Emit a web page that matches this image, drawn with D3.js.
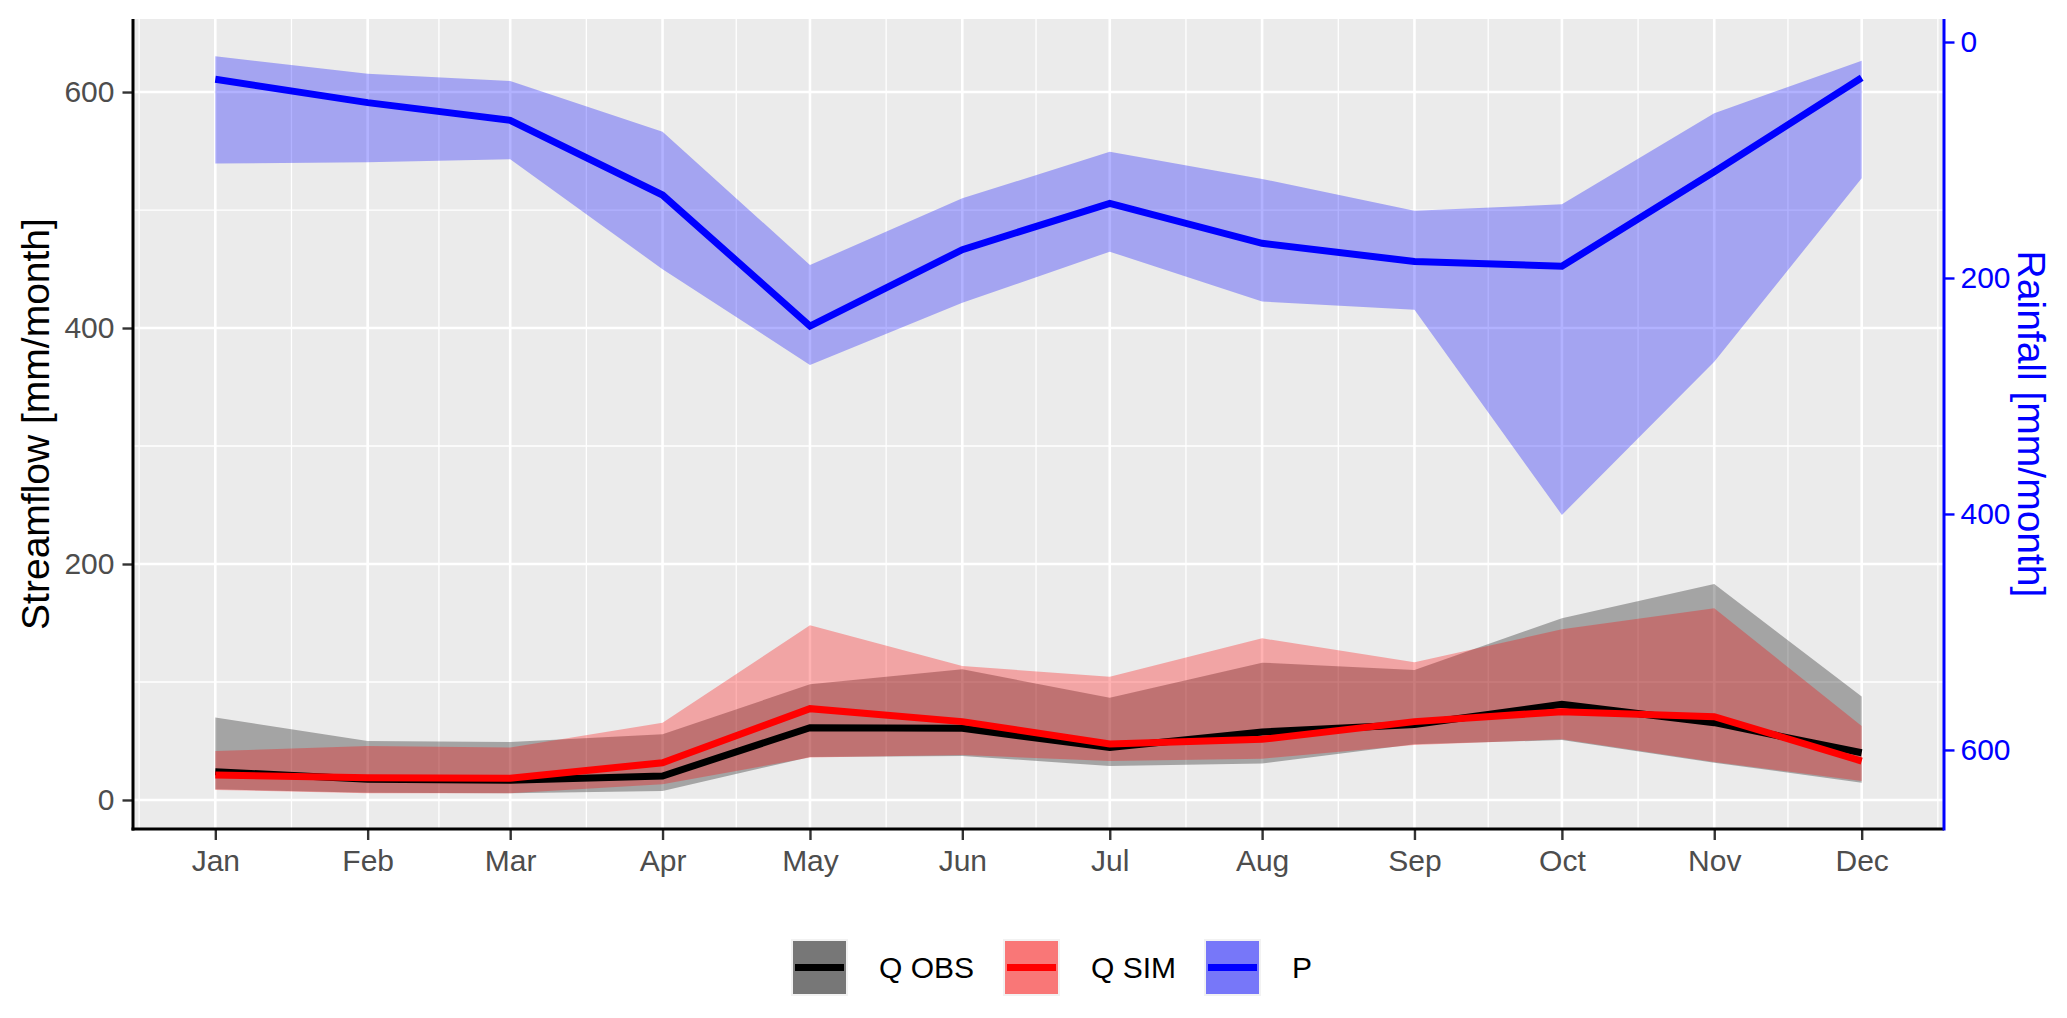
<!DOCTYPE html>
<html><head><meta charset="utf-8">
<script src="https://cdn.jsdelivr.net/npm/d3@7"></script>
<style>body{margin:0;background:#fff}svg{display:block}text{font-family:"Liberation Sans",Arial,sans-serif}</style>
</head><body><svg id="c" width="2067" height="1018"></svg>
<script>
const months = ["Jan","Feb","Mar","Apr","May","Jun","Jul","Aug","Sep","Oct","Nov","Dec"];
const qObsMean = [24, 17.5, 16.7, 20.3, 61.3, 60.7, 44.4, 57.6, 64, 81, 65.5, 40];
const qObsMin  = [9, 6.2, 5.6, 7.6, 36.4, 37.3, 28.8, 31, 47.2, 50.8, 31.6, 14.7];
const qObsMax  = [69.8, 50, 49.2, 55.6, 98, 110.7, 86.7, 116.4, 110.2, 154, 183, 87.6];
const qSimMean = [21.2, 18.9, 18.4, 31.6, 77.4, 66.4, 47.5, 51.4, 66.4, 74.8, 70.6, 33];
const qSimMin  = [8.5, 5.6, 5.6, 13.3, 35.9, 38.1, 33, 35, 46.6, 51.4, 32.2, 16];
const qSimMax  = [41.5, 45.8, 44.4, 65.5, 148, 113.5, 104.5, 137, 116.7, 144.6, 162.4, 62.7];
const pMean = [31.6, 51.4, 66.4, 129.7, 240.7, 176, 136.7, 170.6, 186, 190, 110, 30.3];
const pMin  = [12, 27, 33, 76, 189, 132.5, 93, 116, 143, 137.6, 60.4, 15.8];
const pMax  = [103, 102, 99.4, 192.6, 273.7, 221, 177.7, 220, 227, 400.8, 271, 115.5];
const leftTicks = [0, 200, 400, 600];
const rightTicks = [0, 200, 400, 600];
const legendLabels = ["Q OBS", "Q SIM", "P"];

const svg = d3.select("#c");
const L = 133, R = 1944, T = 19, B = 829;
const dates = months.map((m, i) => new Date(Date.UTC(2000, i, 1)));
const pad = (dates[11] - dates[0]) * 0.05;
const x = d3.scaleUtc().domain([new Date(+dates[0] - pad), new Date(+dates[11] + pad)]).range([L, R]);
const y = d3.scaleLinear().domain([-24.6, 661.9]).range([B, T]);
const yR = d3.scaleLinear().domain([-19.5, 667]).range([T, B]);

svg.append("rect").attr("x", L).attr("y", T).attr("width", R - L).attr("height", B - T).attr("fill", "#ebebeb");
svg.append("clipPath").attr("id", "clip").append("rect").attr("x", L).attr("y", T).attr("width", R - L).attr("height", B - T);

// grid
const g = svg.append("g").attr("clip-path", "url(#clip)");
const minorY = [100, 300, 500];
g.selectAll(".hmin").data(minorY).join("line").attr("x1", L).attr("x2", R)
  .attr("y1", d => y(d)).attr("y2", d => y(d)).attr("stroke", "#fff").attr("stroke-width", 1.3);
const ext = [new Date(Date.UTC(1999, 11, 1)), ...dates, new Date(Date.UTC(2001, 0, 1))];
const minorX = d3.pairs(ext).map(([a, b]) => new Date((+a + +b) / 2));
g.selectAll(".vmin").data(minorX).join("line").attr("y1", T).attr("y2", B)
  .attr("x1", d => x(d)).attr("x2", d => x(d)).attr("stroke", "#fff").attr("stroke-width", 1.3);
g.selectAll(".hmaj").data(leftTicks).join("line").attr("x1", L).attr("x2", R)
  .attr("y1", d => y(d)).attr("y2", d => y(d)).attr("stroke", "#fff").attr("stroke-width", 2.6);
g.selectAll(".vmaj").data(dates).join("line").attr("y1", T).attr("y2", B)
  .attr("x1", d => x(d)).attr("x2", d => x(d)).attr("stroke", "#fff").attr("stroke-width", 2.6);

// ribbons
const idx = d3.range(12);
const areaQ = (lo, hi) => d3.area().x(i => x(dates[i])).y0(i => y(lo[i])).y1(i => y(hi[i]))(idx);
const areaP = d3.area().x(i => x(dates[i])).y0(i => yR(pMax[i])).y1(i => yR(pMin[i]))(idx);
g.append("path").attr("d", areaQ(qObsMin, qObsMax)).attr("fill", "#000").attr("fill-opacity", 0.3);
g.append("path").attr("d", areaQ(qSimMin, qSimMax)).attr("fill", "#ff0000").attr("fill-opacity", 0.3);
g.append("path").attr("d", areaP).attr("fill", "#0000ff").attr("fill-opacity", 0.3);
// lines
const lineQ = v => d3.line().x(i => x(dates[i])).y(i => y(v[i]))(idx);
const lineP = d3.line().x(i => x(dates[i])).y(i => yR(pMean[i]))(idx);
g.append("path").attr("d", lineQ(qObsMean)).attr("fill", "none").attr("stroke", "#000").attr("stroke-width", 7);
g.append("path").attr("d", lineQ(qSimMean)).attr("fill", "none").attr("stroke", "#ff0000").attr("stroke-width", 7);
g.append("path").attr("d", lineP).attr("fill", "none").attr("stroke", "#0000ff").attr("stroke-width", 7);

// axes
function styleAxis(sel, tickColor, textColor) {
  sel.select(".domain").remove();
  sel.selectAll(".tick line").attr("stroke", tickColor).attr("stroke-width", 2.4);
  sel.selectAll(".tick text").attr("fill", textColor).style("font-size", "30px")
    .style("font-family", '"Liberation Sans",Arial,sans-serif');
}
const ax = svg.append("g").attr("transform", `translate(0,${B})`)
  .call(d3.axisBottom(x).tickValues(dates).tickFormat((d, i) => months[i]).tickSize(11).tickPadding(10));
styleAxis(ax, "#333", "#4d4d4d");
const ay = svg.append("g").attr("transform", `translate(${L},0)`)
  .call(d3.axisLeft(y).tickValues(leftTicks).tickSize(10.5).tickPadding(8));
styleAxis(ay, "#333", "#4d4d4d");
const ayr = svg.append("g").attr("transform", `translate(${R},0)`)
  .call(d3.axisRight(yR).tickValues(rightTicks).tickSize(10.5).tickPadding(6));
styleAxis(ayr, "#0000ff", "#0000ff");

svg.append("line").attr("x1", L).attr("x2", L).attr("y1", T).attr("y2", B + 1.5).attr("stroke", "#000").attr("stroke-width", 3);
svg.append("line").attr("x1", L - 1.5).attr("x2", R).attr("y1", B).attr("y2", B).attr("stroke", "#000").attr("stroke-width", 3);
svg.append("line").attr("x1", R).attr("x2", R).attr("y1", T).attr("y2", B + 1.5).attr("stroke", "#0000ff").attr("stroke-width", 3);

// titles
svg.append("text").attr("transform", `translate(35,${(T + B) / 2}) rotate(-90)`).attr("text-anchor", "middle")
  .attr("dy", "0.35em").style("font-size", "39px").attr("fill", "#000").text("Streamflow [mm/month]");
svg.append("text").attr("transform", `translate(2032,${(T + B) / 2}) rotate(90)`).attr("text-anchor", "middle")
  .attr("dy", "0.35em").style("font-size", "39px").attr("fill", "#0000ff").text("Rainfall [mm/month]");

// legend
const legCols = ["#000000", "#ff0000", "#0000ff"];
const keyX = [791, 1003, 1204];
const keyY = 939, ks = 57;
legendLabels.forEach((lab, i) => {
  const lg = svg.append("g");
  lg.append("rect").attr("x", keyX[i]).attr("y", keyY).attr("width", ks).attr("height", ks).attr("fill", "#f2f2f2");
  lg.append("rect").attr("x", keyX[i] + 2).attr("y", keyY + 2).attr("width", ks - 4).attr("height", ks - 4)
    .attr("fill", legCols[i]).attr("fill-opacity", 0.51);
  lg.append("line").attr("x1", keyX[i] + 4).attr("x2", keyX[i] + ks - 4).attr("y1", keyY + ks / 2).attr("y2", keyY + ks / 2)
    .attr("stroke", legCols[i]).attr("stroke-width", 7);
  lg.append("text").attr("x", keyX[i] + ks + 31).attr("y", keyY + ks / 2).attr("dy", "0.35em")
    .style("font-size", "30px").attr("fill", "#000").text(lab);
});
</script></body></html>
